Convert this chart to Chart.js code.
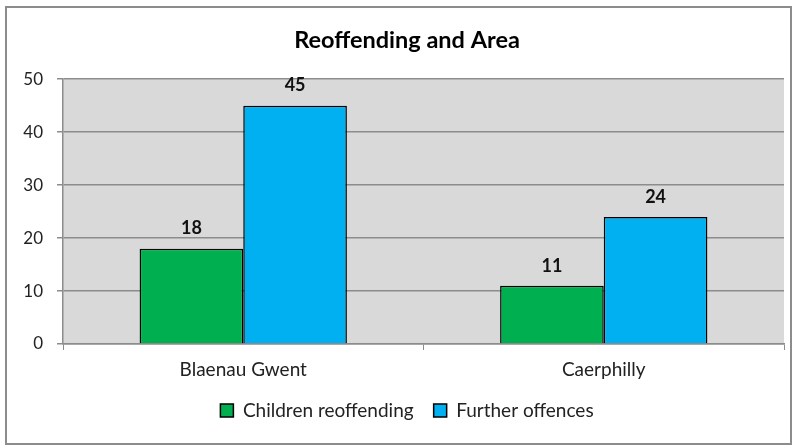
<!DOCTYPE html>
<html><head><meta charset="utf-8">
<script src="https://cdn.jsdelivr.net/npm/chart.js@4"></script>
<style>html,body{margin:0;padding:0;background:#fff}#wrap{width:795px;height:446px;position:relative}</style>
</head><body><div id="wrap"><canvas id="c" width="795" height="446"></canvas></div>
<script>
const categories = ["Blaenau Gwent", "Caerphilly"];
const childrenReoffending = [18, 11];
const furtherOffences = [45, 24];
const seriesNames = ["Children reoffending", "Further offences"];
const FONT = "Lato, 'Open Sans', sans-serif";

const bgPlugin = {
  id: 'bg',
  afterLayout(chart) {
    const y = chart.scales.y;
    y.left = 0;
    y.width = y.right;
  },
  beforeDraw(chart) {
    const ctx = chart.ctx, a = chart.chartArea;
    ctx.save();
    ctx.fillStyle = '#fff';
    ctx.fillRect(0, 0, chart.width, chart.height);
    ctx.strokeStyle = '#8c8c8c';
    ctx.lineWidth = 2;
    ctx.strokeRect(6, 7, 785, 437);
    ctx.fillStyle = '#d9d9d9';
    ctx.fillRect(a.left, a.top, a.right - a.left, a.bottom - a.top);
    ctx.restore();
  }
};
const labelPlugin = {
  id: 'vals',
  afterDatasetsDraw(chart) {
    const ctx = chart.ctx;
    ctx.save();
    ctx.font = "bold 18px " + FONT;
    ctx.fillStyle = '#111';
    ctx.textAlign = 'center';
    ctx.textBaseline = 'bottom';
    chart.data.datasets.forEach((ds, i) => {
      chart.getDatasetMeta(i).data.forEach((bar, j) => {
        ctx.fillText(String(ds.data[j]), bar.x, bar.y - 11);
      });
    });
    ctx.restore();
  }
};

new Chart(document.getElementById('c'), {
  type: 'bar',
  data: {
    labels: categories,
    datasets: [
      { label: seriesNames[0], data: childrenReoffending, backgroundColor: '#00b050', borderColor: '#000', borderWidth: 1.5 },
      { label: seriesNames[1], data: furtherOffences, backgroundColor: '#00b0f0', borderColor: '#000', borderWidth: 1.5 }
    ]
  },
  options: {
    responsive: false,
    animation: false,
    devicePixelRatio: 1,
    layout: { padding: { top: 6, left: 30, right: 11, bottom: 16 } },
    datasets: { bar: { barPercentage: 1, categoryPercentage: 0.575 } },
    plugins: {
      title: { display: true, text: 'Reoffending and Area', color: '#000',
        font: { family: FONT, size: 23.5, weight: 'bold' }, padding: { top: 20, bottom: 25 } },
      legend: { position: 'bottom',
        labels: { color: '#222', font: { family: FONT, size: 19 }, boxWidth: 13, boxHeight: 13, padding: 20,
          generateLabels(chart) {
            return chart.data.datasets.map((d, i) => ({ text: d.label, fillStyle: d.backgroundColor, strokeStyle: '#000', lineWidth: 1.5, datasetIndex: i, fontColor: '#222' }));
          } } },
      tooltip: { enabled: false }
    },
    scales: {
      x: {
        grid: { drawOnChartArea: false, drawTicks: true, tickLength: 6, color: '#8c8c8c', offset: true },
        border: { color: '#8c8c8c', width: 1.5 },
        ticks: { color: '#222', font: { family: FONT, size: 19 }, padding: 8 },
        afterFit(s) { s.height = 37; }
      },
      y: {
        min: 0, max: 50,
        ticks: { stepSize: 10, color: '#222', font: { family: FONT, size: 17 }, padding: 14 },
        grid: { color: '#8c8c8c', lineWidth: 1.5, tickLength: 6 },
        border: { color: '#8c8c8c', width: 1.5 },
        afterFit(s) { s.width = 33; }
      }
    }
  },
  plugins: [bgPlugin, labelPlugin]
});
</script></body></html>
